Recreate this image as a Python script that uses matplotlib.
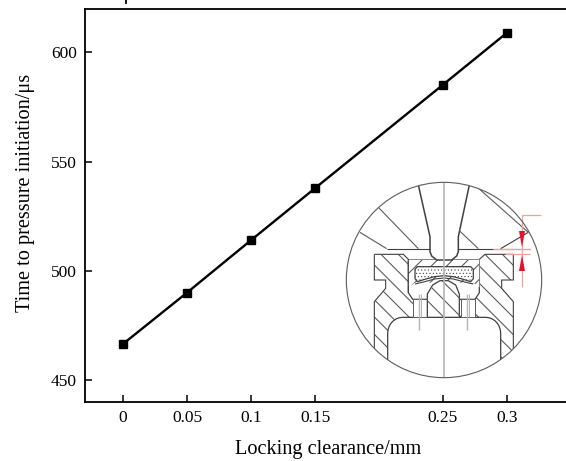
import matplotlib
matplotlib.use('Agg')
import matplotlib.pyplot as plt
from matplotlib.patches import Circle, Polygon
from matplotlib.lines import Line2D
import numpy as np

plt.rcParams['font.family'] = ['Liberation Serif', 'DejaVu Serif']

clearance = [0, 0.05, 0.1, 0.15, 0.25, 0.3]
time_us = [466.5, 490, 514, 537.8, 585.2, 609]
x_ticks = [0, 0.05, 0.1, 0.15, 0.25, 0.3]
x_tick_labels = ['0', '0.05', '0.1', '0.15', '0.25', '0.3']
y_ticks = [450, 500, 550, 600]

W, H = 566, 461
fig = plt.figure(figsize=(W/100, H/100), dpi=100)
L, R, T, B = 85, 566, 9, 401.5
ax = fig.add_axes([L/W, 1-B/H, (R-L)/W, (B-T)/H])
ax.plot(clearance, time_us, color='black', lw=1.7, marker='s', ms=6.2, mec='black', mfc='black', zorder=3)
ax.set_xlim(-0.0298, 0.3462)
ax.set_ylim(440.1, 619.9)
ax.set_xticks(x_ticks)
ax.set_xticklabels(x_tick_labels)
ax.set_yticks(y_ticks)
ax.tick_params(direction='in', length=5.2, width=1.1, labelsize=12.5)
ax.tick_params(axis='x', pad=6)
ax.tick_params(axis='y', pad=6)
ax.spines['right'].set_visible(False)
for s in ['left', 'bottom', 'top']:
    ax.spines[s].set_linewidth(1.3)
fig.text(25.5/W, 1-193/H, 'Time to pressure initiation/μs', rotation=90, ha='center', va='center', fontsize=14.6)
fig.text(328/W, 1-449/H, 'Locking clearance/mm', ha='center', va='center', fontsize=14.6)
# the stub of a cropped glyph at the very top of the picture
fig.add_artist(Line2D([126/W, 126/W], [1, 1-3.5/H], color='black', lw=1.3, transform=fig.transFigure))

# Inset illustration, in its own overlay axes (units = 1/3 pixel, origin at its corner)
ov = fig.add_axes([0, 0, 1, 1], zorder=5)
ov.set_xlim(-1020, 678)
ov.set_ylim(873, -510)
ov.axis('off')
ov.patch.set_alpha(0)

DK, MD, LT = '#404040', '#5c5c5c', '#b4b4b4'
ov.add_patch(Circle((312, 330), 293, fc='none', ec=MD, lw=0.8, zorder=20))
clip = Circle((312, 330), 293, transform=ov.transData)

def line(xs, ys, c=MD, lw=0.8, z=10, clipper=clip):
    l, = ov.plot(xs, ys, color=c, lw=lw, zorder=z, solid_capstyle='butt')
    if clipper is not None:
        l.set_clip_path(clipper)
    return l

def poly(pts, fc='white', ec=MD, lw=0.8, z=5, **kw):
    p = Polygon(pts, closed=True, fc=fc, ec=ec, lw=lw, zorder=z, **kw)
    ov.add_patch(p)
    p.set_clip_path(clip)
    return p

def hatch(region, offsets, sign=1, z=None, c=MD, lw=0.8):
    zz = region.get_zorder() + 0.1 if z is None else z
    for o in offsets:
        l, = ov.plot([o - 1000 * sign, o + 1000 * sign], [-670, 1330], color=c, lw=lw, zorder=zz)
        l.set_clip_path(region)

def corner(cx, cy, rx, ry, a0, a1, n=8):
    t = np.radians(np.linspace(a0, a1, n))
    return [(cx + rx * np.cos(a), cy + ry * np.sin(a)) for a in t]

# upper body
for xs, ys in [((115, 235), (112, 236)), ((60, 140), (187, 236)), ((140, 270), (236, 236)),
               ((355, 570), (236, 236)), ((358, 415), (182, 236)), ((482, 565), (236, 187)),
               ((410, 565), (50, 187))]:
    line(xs, ys, c=DK if ys[0] == 236 else MD)

# piston
piston = [(103, 253), (190, 253), (205, 268), (205, 368), (418, 368), (418, 268), (435, 253), (520, 253),
          (520, 330), (485, 330), (485, 355), (520, 395)] + corner(312, 330, 293, 293, 44.8, 135.5, 24) + [
          (103, 395), (137, 355), (137, 330), (103, 330)]
pp = poly(piston, fc='white', ec='none', z=2)
hatch_offsets = np.arange(-60, 610, 52)
hatch(pp, hatch_offsets, 1)
line((103, 190, 205, 205), (253, 253, 268, 368), c=DK)
line((103, 103, 137, 137, 103, 103, 103), (253, 330, 330, 355, 395, 510, 640), c=DK)
line((418, 435, 520, 520, 485, 485, 520, 520), (268, 253, 253, 330, 330, 355, 395, 640), c=DK)

# lower cavity
cavity = [(143, 640)] + corner(188, 490, 45, 48, 180, 270) + corner(437, 490, 45, 48, 270, 360) + [(482, 640)]
poly(cavity, fc='white', ec=DK, lw=0.9, z=6)

# combustion chamber
poly([(205, 270), (418, 270), (418, 368), (405, 388), (218, 388), (205, 368)], fc='white', ec=DK, lw=0.9, z=6)
top_h = poly([(205, 270), (418, 270), (418, 352), (400, 338), (225, 338), (205, 352)], fc='white', ec='none', z=6.1)
hatch(top_h, np.arange(140, 450, 46), -1, z=6.2)

# dotted charge
plt.rcParams['hatch.color'] = '#555555'
plt.rcParams['hatch.linewidth'] = 0.4
dots = poly([(232, 290), (392, 290), (400, 298), (400, 326), (392, 335), (370, 328), (340, 320), (312, 317),
             (284, 320), (254, 328), (232, 335), (225, 326), (225, 298)],
            fc='white', ec=DK, lw=0.9, z=7, hatch='.....')

# arched plate and central boss
line((225, 254, 284, 312, 340, 370, 400), (342, 335, 327, 324, 327, 335, 342), c=DK, z=8)
boss = poly([(262, 442), (262, 372), (278, 345), (300, 332), (325, 332), (347, 345), (358, 372), (358, 442)],
            fc='white', ec=DK, lw=0.9, z=7)
hatch(boss, hatch_offsets, 1, z=7.1)

# injection ports
for x0 in (240, 384):
    poly([(x0 - 22, 442), (x0 - 22, 388), (x0 + 22, 388), (x0 + 22, 442)], fc='white', ec=MD, lw=0.7, z=6.5)
    line((x0 - 4, x0 - 4), (372, 480), c=LT, lw=1.0, z=8)
    line((x0 + 4, x0 + 4), (372, 440), c=LT, lw=0.7, z=8)

# nozzle
nozzle = [(235, 45), (270, 200), (270, 245), (275, 258), (290, 270), (335, 270), (350, 258), (355, 245), (355, 200), (388, 45)]
poly(nozzle, fc='white', ec='none', z=8)
line([p[0] for p in nozzle], [p[1] for p in nozzle], c=DK, lw=1.1, z=9)

# centre line
line((312, 312), (37, 622), c=LT, lw=1.2, z=15)

# clearance dimension in red
PK = '#f0a0a0'
line((545, 602), (135, 135), c=PK, lw=0.9, z=16, clipper=None)
line((545, 545), (135, 352), c=PK, lw=0.9, z=16, clipper=None)
line((460, 570), (236, 236), c=PK, lw=0.9, z=16, clipper=None)
line((495, 570), (253, 253), c=PK, lw=0.9, z=16, clipper=None)
for tri in ([(537, 183), (555, 183), (546, 232)], [(537, 303), (555, 303), (546, 255)]):
    ov.add_patch(Polygon(tri, closed=True, fc='#e8112d', ec='none', zorder=17))

fig.savefig('out.png', dpi=100)
